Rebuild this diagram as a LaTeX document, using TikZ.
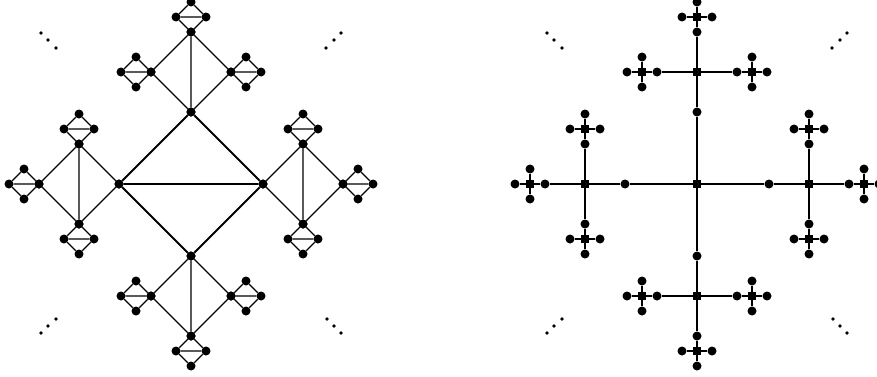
\documentclass[tikz,border=0pt]{standalone}
\usepackage{tikz}
\usetikzlibrary{calc}

\tikzset{
  vtx/.style={circle, fill=black, inner sep=0pt, minimum size=9pt},
  sqr/.style={rectangle, fill=black, inner sep=0pt, minimum size=8.5pt},
  bigedge/.style={line width=1.9pt},
  smalledge/.style={line width=1.4pt},
}

\begin{document}
\begin{tikzpicture}[x=1pt, y=1pt]
  \useasboundingbox (0,0) rectangle (877,376);

  % 左のグラフ（菱形の再帰）
  \begin{scope}[shift={(191,192)}]
    \foreach \a in {0,90,180,270}
      \node[vtx] (A\a) at (\a:72) {};
    \draw[bigedge] (A0) -- (A90) -- (A180) -- (A270) -- (A0) (A0) -- (A180);
    \foreach \a in {0,90,180,270} {
      \foreach \b in {0,90,180,270}
        \node[vtx] (B\a-\b) at ($(\a:112)+(\b:40)$) {};
      \draw[smalledge] (B\a-0) -- (B\a-90) -- (B\a-180) -- (B\a-270) -- (B\a-0)
        (B\a-90) -- (B\a-270);
      \foreach \d [evaluate=\d as \b using {int(mod(\a+\d+360,360))}] in {-90,0,90} {
        \foreach \c in {0,90,180,270}
          \node[vtx] (C\a-\b-\c) at ($(\a:112)+(\b:55)+(\c:15)$) {};
        \draw[smalledge] (C\a-\b-0) -- (C\a-\b-90) -- (C\a-\b-180) -- (C\a-\b-270) -- (C\a-\b-0)
          (C\a-\b-0) -- (C\a-\b-180);
      }
    }
  \end{scope}

  % 右のグラフ（木）
  \begin{scope}[shift={(697,192)}]
    \node[sqr] (S) at (0,0) {};
    \foreach \a in {0,90,180,270} {
      \node[vtx] (P\a) at (\a:72) {};
      \node[sqr] (Q\a) at (\a:112) {};
      \draw[bigedge] (S) -- (P\a) -- (Q\a);
      \foreach \d [evaluate=\d as \b using {int(mod(\a+\d+360,360))}] in {-90,0,90} {
        \node[vtx] (R\a-\b) at ($(\a:112)+(\b:40)$) {};
        \node[sqr] (T\a-\b) at ($(\a:112)+(\b:55)$) {};
        \draw[bigedge] (Q\a) -- (R\a-\b) -- (T\a-\b);
        \foreach \e [evaluate=\e as \c using {int(mod(\b+\e+360,360))}] in {-90,0,90} {
          \node[vtx] (U\a-\b-\c) at ($(\a:112)+(\b:55)+(\c:15)$) {};
          \draw[smalledge] (T\a-\b) -- (U\a-\b-\c);
        }
      }
    }
  \end{scope}

  % 省略記号
  \foreach \x in {0,506} {
    \foreach \p in {(41,343),(48,336),(56,328),
                    (326,328),(334,336),(341,343),
                    (41,43),(48,50),(56,57),
                    (327,57),(334,50),(341,43)}
      \fill[xshift=\x] \p circle (1.8);
  }
\end{tikzpicture}
\end{document}
